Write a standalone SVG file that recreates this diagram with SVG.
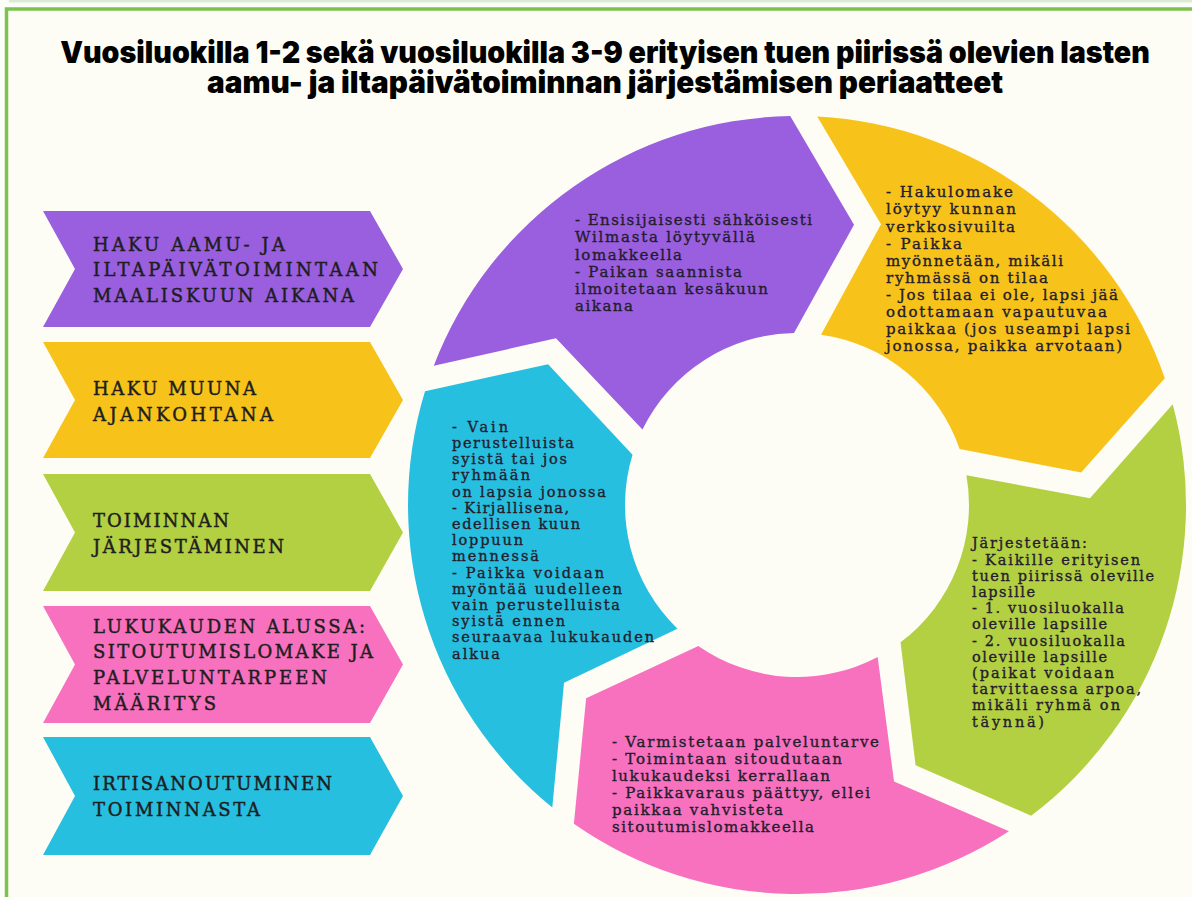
<svg xmlns="http://www.w3.org/2000/svg" width="1192" height="897" viewBox="0 0 1192 897">
<style>
.lbl{font-family:"DejaVu Serif","Liberation Serif",serif;font-size:18px;fill:#1e1e1e;stroke:#1e1e1e;stroke-width:0.45px;}
.rt{font-family:"DejaVu Serif","Liberation Serif",serif;font-size:15px;fill:#241d2d;stroke:#241d2d;stroke-width:0.35px;}
.rs{font-size:14.5px;}
.title{font-family:Inter,"Liberation Sans",sans-serif;font-weight:900;font-size:30px;fill:#000;}
.pu{fill:#995fdf;}.ye{fill:#f7c31b;}.gr{fill:#b3cf42;}.pk{fill:#f771bf;}.bl{fill:#27bfe0;}
</style>
<rect x="0" y="0" width="1192" height="897" fill="#fbfdf8"/>
<rect x="9" y="0" width="1183" height="2.5" fill="#dcebd2"/>
<rect x="6.5" y="9" width="1200" height="900" fill="#fdfdf5" stroke="#7cc24f" stroke-width="3.5"/>

<g id="title">
<text class="title" transform="translate(605,63) scale(0.8,1)" x="0" y="0" text-anchor="middle" textLength="1362" lengthAdjust="spacingAndGlyphs">Vuosiluokilla 1-2 sekä vuosiluokilla 3-9 erityisen tuen piirissä olevien lasten</text>
<text class="title" transform="translate(605,93) scale(0.8,1)" x="0" y="0" text-anchor="middle" textLength="995" lengthAdjust="spacingAndGlyphs">aamu- ja iltapäivätoiminnan järjestämisen periaatteet</text>
</g>

<g id="arrow-haku-maaliskuu">
<path class="pu" d="M43,211 H370 L403,269 L370,327 H43 L75,269 Z"/>
<text class="lbl" x="93" y="251" textLength="192" lengthAdjust="spacing">HAKU AAMU- JA</text>
<text class="lbl" x="93" y="276" textLength="285" lengthAdjust="spacing">ILTAPÄIVÄTOIMINTAAN</text>
<text class="lbl" x="93" y="302" textLength="261" lengthAdjust="spacing">MAALISKUUN AIKANA</text>
</g>
<g id="arrow-haku-muuna">
<path class="ye" d="M43,342 H370 L403,400 L370,458 H43 L75,400 Z"/>
<text class="lbl" x="93" y="395" textLength="163" lengthAdjust="spacing">HAKU MUUNA</text>
<text class="lbl" x="93" y="421" textLength="180" lengthAdjust="spacing">AJANKOHTANA</text>
</g>
<g id="arrow-toiminnan">
<path class="gr" d="M43,474 H370 L403,532.5 L370,591 H43 L75,532.5 Z"/>
<text class="lbl" x="93" y="527" textLength="136" lengthAdjust="spacing">TOIMINNAN</text>
<text class="lbl" x="93" y="553" textLength="191" lengthAdjust="spacing">JÄRJESTÄMINEN</text>
</g>
<g id="arrow-lukukauden">
<path class="pk" d="M43,606 H370 L403,664.5 L370,723 H43 L75,664.5 Z"/>
<text class="lbl" x="93" y="633" textLength="272" lengthAdjust="spacing">LUKUKAUDEN ALUSSA:</text>
<text class="lbl" x="93" y="658" textLength="280" lengthAdjust="spacing">SITOUTUMISLOMAKE JA</text>
<text class="lbl" x="93" y="684" textLength="234" lengthAdjust="spacing">PALVELUNTARPEEN</text>
<text class="lbl" x="93" y="710" textLength="123" lengthAdjust="spacing">MÄÄRITYS</text>
</g>
<g id="arrow-irtisanoutuminen">
<path class="bl" d="M43,737 H370 L403,796 L370,855 H43 L75,796 Z"/>
<text class="lbl" x="93" y="790" textLength="239" lengthAdjust="spacing">IRTISANOUTUMINEN</text>
<text class="lbl" x="93" y="816" textLength="167" lengthAdjust="spacing">TOIMINNASTA</text>
</g>

<g id="connectors"></g>

<g id="ring-purple">
<path class="pu" d="M433.78,365.73 A389,389 0 0 1 790.21,116.06 L854.02,224.74 L794.0,333.03 A172,172 0 0 0 642.45,429.51 L555.97,338.35 Z"/>
<text class="rt" x="575" y="225" textLength="237" lengthAdjust="spacing">- Ensisijaisesti sähköisesti</text>
<text class="rt" x="575" y="242" textLength="180" lengthAdjust="spacing">Wilmasta löytyvällä</text>
<text class="rt" x="575" y="260" textLength="107" lengthAdjust="spacing">lomakkeella</text>
<text class="rt" x="575" y="277" textLength="167" lengthAdjust="spacing">- Paikan saannista</text>
<text class="rt" x="575" y="294" textLength="193" lengthAdjust="spacing">ilmoitetaan kesäkuun</text>
<text class="rt" x="575" y="311" textLength="58" lengthAdjust="spacing">aikana</text>
</g>

<g id="ring-yellow">
<path class="ye" d="M817.22,116.53 A389,389 0 0 1 1164.81,378.35 L1081.16,472.62 L959.63,449.0 A172,172 0 0 0 821.03,334.69 L881.02,224.27 Z"/>
<text class="rt" x="886" y="197" textLength="127" lengthAdjust="spacing">- Hakulomake</text>
<text class="rt" x="886" y="214" textLength="130" lengthAdjust="spacing">löytyy kunnan</text>
<text class="rt" x="886" y="232" textLength="129" lengthAdjust="spacing">verkkosivuilta</text>
<text class="rt" x="886" y="249" textLength="76" lengthAdjust="spacing">- Paikka</text>
<text class="rt" x="886" y="266" textLength="177" lengthAdjust="spacing">myönnetään, mikäli</text>
<text class="rt" x="886" y="283" textLength="162" lengthAdjust="spacing">ryhmässä on tilaa</text>
<text class="rt" x="886" y="300" textLength="232" lengthAdjust="spacing">- Jos tilaa ei ole, lapsi jää</text>
<text class="rt" x="886" y="317" textLength="221" lengthAdjust="spacing">odottamaan vapautuvaa</text>
<text class="rt" x="886" y="334" textLength="244" lengthAdjust="spacing">paikkaa (jos useampi lapsi</text>
<text class="rt" x="886" y="351" textLength="236" lengthAdjust="spacing">jonossa, paikka arvotaan)</text>
</g>

<g id="ring-green">
<path class="gr" d="M1172.71,404.19 A389,389 0 0 1 1031.11,815.67 L915.60,765.25 L900.51,642.37 A172,172 0 0 0 966.40,475.22 L1089.95,498.15 Z"/>
<text class="rt rs" x="972" y="548" textLength="115" lengthAdjust="spacing">Järjestetään:</text>
<text class="rt rs" x="972" y="565" textLength="168" lengthAdjust="spacing">- Kaikille erityisen</text>
<text class="rt rs" x="972" y="581" textLength="182" lengthAdjust="spacing">tuen piirissä oleville</text>
<text class="rt rs" x="972" y="597" textLength="63" lengthAdjust="spacing">lapsille</text>
<text class="rt rs" x="972" y="613" textLength="152" lengthAdjust="spacing">- 1. vuosiluokalla</text>
<text class="rt rs" x="972" y="629" textLength="135" lengthAdjust="spacing">oleville lapsille</text>
<text class="rt rs" x="972" y="646" textLength="153" lengthAdjust="spacing">- 2. vuosiluokalla</text>
<text class="rt rs" x="972" y="662" textLength="135" lengthAdjust="spacing">oleville lapsille</text>
<text class="rt rs" x="972" y="678" textLength="142" lengthAdjust="spacing">(paikat voidaan</text>
<text class="rt rs" x="972" y="694" textLength="169" lengthAdjust="spacing">tarvittaessa arpoa,</text>
<text class="rt rs" x="972" y="710" textLength="148" lengthAdjust="spacing">mikäli ryhmä on</text>
<text class="rt rs" x="972" y="727" textLength="72" lengthAdjust="spacing">täynnä)</text>
</g>

<g id="ring-pink">
<path class="pk" d="M1008.98,831.17 A389,389 0 0 1 573.88,823.65 L586.14,698.22 L698.34,645.89 A172,172 0 0 0 877.65,656.92 L894.04,781.50 Z"/>
<text class="rt" x="612" y="747" textLength="267" lengthAdjust="spacing">- Varmistetaan palveluntarve</text>
<text class="rt" x="612" y="764" textLength="230" lengthAdjust="spacing">- Toimintaan sitoudutaan</text>
<text class="rt" x="612" y="781" textLength="218" lengthAdjust="spacing">lukukaudeksi kerrallaan</text>
<text class="rt" x="612" y="798" textLength="258" lengthAdjust="spacing">- Paikkavaraus päättyy, ellei</text>
<text class="rt" x="612" y="815" textLength="171" lengthAdjust="spacing">paikkaa vahvisteta</text>
<text class="rt" x="612" y="832" textLength="202" lengthAdjust="spacing">sitoutumislomakkeella</text>
</g>

<g id="ring-blue">
<path class="bl" d="M552.30,807.40 A389,389 0 0 1 425.0,391.27 L548.08,364.17 L632.52,454.71 A172,172 0 0 0 677.45,628.66 L564.02,682.73 Z"/>
<text class="rt rs" x="452" y="432" textLength="56" lengthAdjust="spacing">- Vain</text>
<text class="rt rs" x="452" y="448" textLength="122" lengthAdjust="spacing">perustelluista</text>
<text class="rt rs" x="452" y="464" textLength="115" lengthAdjust="spacing">syistä tai jos</text>
<text class="rt rs" x="452" y="480" textLength="78" lengthAdjust="spacing">ryhmään</text>
<text class="rt rs" x="452" y="497" textLength="154" lengthAdjust="spacing">on lapsia jonossa</text>
<text class="rt rs" x="452" y="513" textLength="117" lengthAdjust="spacing">- Kirjallisena,</text>
<text class="rt rs" x="452" y="529" textLength="128" lengthAdjust="spacing">edellisen kuun</text>
<text class="rt rs" x="452" y="545" textLength="71" lengthAdjust="spacing">loppuun</text>
<text class="rt rs" x="452" y="561" textLength="87" lengthAdjust="spacing">mennessä</text>
<text class="rt rs" x="452" y="578" textLength="152" lengthAdjust="spacing">- Paikka voidaan</text>
<text class="rt rs" x="452" y="594" textLength="170" lengthAdjust="spacing">myöntää uudelleen</text>
<text class="rt rs" x="452" y="610" textLength="168" lengthAdjust="spacing">vain perustelluista</text>
<text class="rt rs" x="452" y="626" textLength="113" lengthAdjust="spacing">syistä ennen</text>
<text class="rt rs" x="452" y="642" textLength="202" lengthAdjust="spacing">seuraavaa lukukauden</text>
<text class="rt rs" x="452" y="659" textLength="48" lengthAdjust="spacing">alkua</text>
</g>
</svg>
